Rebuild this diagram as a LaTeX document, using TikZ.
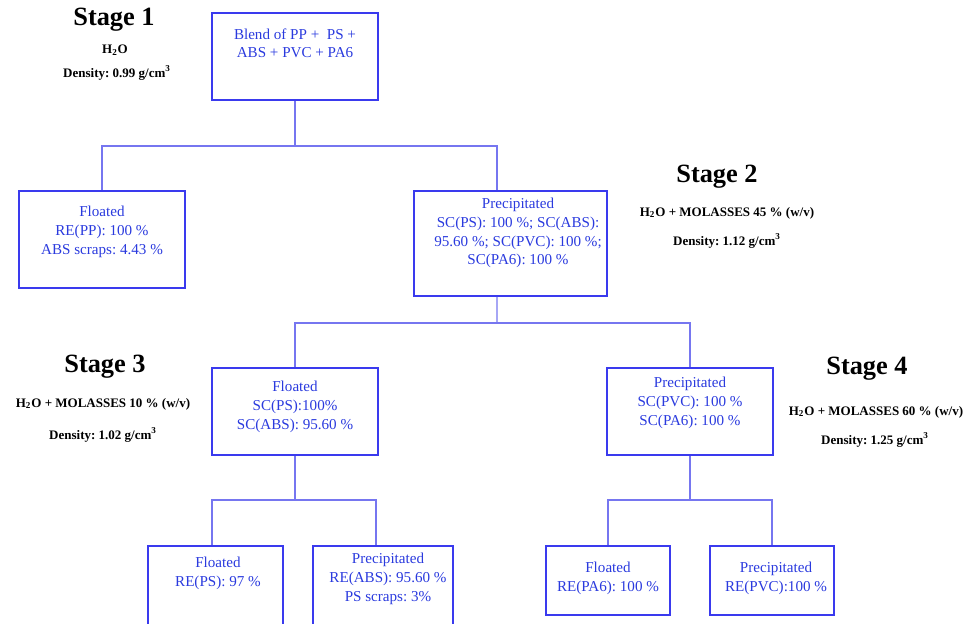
\documentclass[tikz,border=0pt]{standalone}
\usepackage{fontspec}
\setmainfont{Liberation Serif}
\usepackage{tikz}
\usetikzlibrary{positioning,calc}
\definecolor{boxblue}{RGB}{58,58,238}
\definecolor{lineblue}{RGB}{118,118,240}
\definecolor{txtblue}{RGB}{42,58,222}
\frenchspacing

\begin{document}
\begin{tikzpicture}[
    x=0.02cm, y=-0.02cm,
    box/.style={draw=boxblue, line width=1.1pt, minimum height=1.74cm, minimum width=3.32cm},
    txt/.style={anchor=north, inner sep=0pt, align=center, text=txtblue,
                font=\fontsize{8.6}{10.6}\selectfont},
    link/.style={draw=lineblue, line width=0.8pt},
    stagehead/.style={font=\fontsize{15}{18}\selectfont\bfseries, inner sep=0pt},
    stagenote/.style={font=\fontsize{7.4}{9}\selectfont\bfseries, inner sep=0pt}
  ]
    \useasboundingbox (0,0) rectangle (973,623);
    \clip (0,0) rectangle (973,623);

    % Stage 1
    \node[stagehead] (stg1) at (114,20) {Stage 1};
    \node[stagenote] (med1) at (115,50) {H\textsubscript{2}O};
    \node[stagenote] (den1) at (117,73) {Density: 0.99 g/cm\textsuperscript{3}};
    \node[box, label={[txt, yshift=-0.32cm]north:{Blend of PP +~ PS +\\ABS + PVC + PA6}}] (blend) at (295,56.5) {};
    \node[box, minimum height=1.94cm,
          label={[txt, yshift=-0.32cm]north:{Floated\\RE(PP): 100 \%\\ABS scraps: 4.43 \%}}] (float1) at (102,239.5) {};

    % Stage 2
    \node[stagehead] (stg2) at (717,177) {Stage 2};
    \node[stagenote] (med2) at (727,213) {H\textsubscript{2}O + MOLASSES 45 \% (w/v)};
    \node[stagenote] (den2) at (727,241) {Density: 1.12 g/cm\textsuperscript{3}};
    \node[box, minimum width=3.86cm, minimum height=2.10cm,
          label={[txt, yshift=-0.16cm, xshift=0.15cm]north:{Precipitated\\SC(PS): 100 \%; SC(ABS):\\95.60 \%; SC(PVC): 100 \%;\\SC(PA6): 100 \%}}] (prec2) at (510.5,243.5) {};

    % Stage 3
    \node[stagehead] (stg3) at (105,367) {Stage 3};
    \node[stagenote] (med3) at (103,404) {H\textsubscript{2}O + MOLASSES 10 \% (w/v)};
    \node[stagenote] (den3) at (103,435) {Density: 1.02 g/cm\textsuperscript{3}};
    \node[box, label={[txt, yshift=-0.28cm]north:{Floated\\SC(PS):100\%\\SC(ABS): 95.60 \%}}] (float3) at (295,411.5) {};
    \node[box, minimum width=2.70cm, minimum height=1.88cm,
          label={[txt, yshift=-0.24cm, xshift=0.05cm]north:{Floated\\RE(PS): 97 \%}}] (float5) at (215.5,593) {};
    \node[box, minimum width=2.80cm, minimum height=1.88cm,
          label={[txt, yshift=-0.16cm, xshift=0.1cm]north:{Precipitated\\RE(ABS): 95.60 \%\\PS scraps: 3\%}}] (prec6) at (383,593) {};

    % Stage 4
    \node[stagehead] (stg4) at (867,369) {Stage 4};
    \node[stagenote] (med4) at (876,412) {H\textsubscript{2}O + MOLASSES 60 \% (w/v)};
    \node[stagenote] (den4) at (875,440) {Density: 1.25 g/cm\textsuperscript{3}};
    \node[box, label={[txt, yshift=-0.20cm]north:{Precipitated\\SC(PVC): 100 \%\\SC(PA6): 100 \%}}] (prec4) at (690,411.5) {};
    \node[box, minimum width=2.48cm, minimum height=1.38cm,
          label={[txt, yshift=-0.34cm]north:{Floated\\RE(PA6): 100 \%}}] (float7) at (608,580.5) {};
    \node[box, minimum width=2.48cm, minimum height=1.38cm,
          label={[txt, yshift=-0.34cm, xshift=0.08cm]north:{Precipitated\\RE(PVC):100 \%}}] (prec8) at (772,580.5) {};

    % connectors
    \coordinate (j1) at (295,146);
    \coordinate (j2) at (497,323);
    \coordinate (j3) at (295,500);
    \coordinate (j4) at (690,500);
    \draw[link] (blend.south) -- (j1);
    \draw[link] (float1.north) |- (j1) -| ([xshift=-0.27cm]prec2.north);
    \draw[link] ([xshift=-0.27cm]prec2.south) -- (j2);
    \draw[link] (float3.north) |- (j2) -| (prec4.north);
    \draw[link] (float3.south) -- (j3);
    \draw[link] ([xshift=-0.07cm]float5.north) |- (j3) -| ([xshift=-0.14cm]prec6.north);
    \draw[link] (prec4.south) -- (j4);
    \draw[link] (float7.north) |- (j4) -| (prec8.north);
  \end{tikzpicture}
\end{document}
